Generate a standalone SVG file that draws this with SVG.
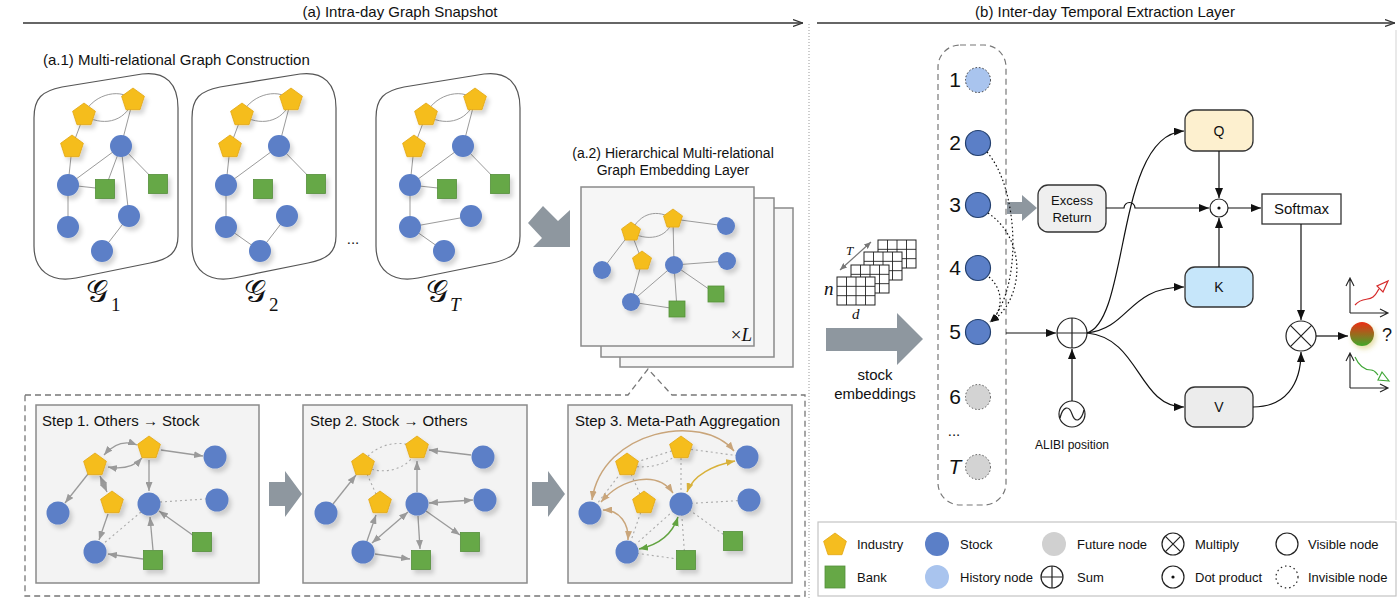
<svg xmlns="http://www.w3.org/2000/svg" xmlns:xlink="http://www.w3.org/1999/xlink" width="1400" height="599" viewBox="0 0 1400 599">
<style>
text{font-family:"Liberation Sans",Arial,sans-serif;fill:#111}
.t15{font-size:15px}
.t14{font-size:14px}
.t13{font-size:13px}
.t12{font-size:12px}
.math{font-family:"Liberation Serif","DejaVu Serif",serif}
.ind{fill:#f5bd1f;stroke:#e2a611;stroke-width:.8}
.stk{fill:#5b7fc7}
.bank{fill:#66a846;stroke:#54903a;stroke-width:.8}
.e{stroke:#9b9b9b;stroke-width:1;fill:none}
.ea{stroke:#9a9a9a;stroke-width:1.3;fill:none}
.dot{stroke:#aaa;stroke-width:1.1;fill:none;stroke-dasharray:2 3}
.stepbox{fill:#f3f3f3;stroke:#8a8a8a;stroke-width:1.5}
.layer{fill:#f6f6f6;stroke:#8a8a8a;stroke-width:1.5}
.cont{fill:#fff;stroke:#555;stroke-width:1.2}
.bk{stroke:#222;stroke-width:1.2;fill:none}
.box{stroke:#333;stroke-width:1.3}
.bigarrow{fill:#8e979f}
</style>
<defs>
<filter id="sh" x="-50%" y="-50%" width="200%" height="200%"><feDropShadow dx="3" dy="4" stdDeviation="2" flood-color="#000" flood-opacity="0.16"/></filter>
<filter id="glow" x="-60%" y="-60%" width="220%" height="220%"><feDropShadow dx="2" dy="3" stdDeviation="2.5" flood-color="#c8b640" flood-opacity="0.45"/></filter>
<path id="pent" d="M0,-12 L11.4,-3.7 L7,9.7 L-7,9.7 L-11.4,-3.7Z"/>
<path id="pentS" d="M0,-10 L9.5,-3.1 L5.9,8.1 L-5.9,8.1 L-9.5,-3.1Z"/>
<linearGradient id="ball" x1="0" y1="0" x2="0" y2="1"><stop offset="0" stop-color="#ec2d14"/><stop offset="0.5" stop-color="#9a6a1e"/><stop offset="1" stop-color="#40a82a"/></linearGradient>
<marker id="hd" viewBox="0 0 10 8" refX="10" refY="4" markerWidth="10" markerHeight="8" markerUnits="userSpaceOnUse" orient="auto"><path d="M0,0.5L9.5,4L0,7.5" fill="none" stroke="#333" stroke-width="1.2"/></marker>
<marker id="ah" viewBox="0 0 10 8" refX="10" refY="4" markerWidth="10" markerHeight="8" markerUnits="userSpaceOnUse" orient="auto"><path d="M0,0L10,4L0,8z" fill="#111"/></marker>
<marker id="ahs" viewBox="0 0 8 6" refX="8" refY="3" markerWidth="8" markerHeight="6" markerUnits="userSpaceOnUse" orient="auto"><path d="M0,0L8,3L0,6z" fill="#111"/></marker>
<marker id="mg" viewBox="0 0 9 7" refX="9" refY="3.5" markerWidth="9" markerHeight="7" markerUnits="userSpaceOnUse" orient="auto-start-reverse"><path d="M0,0L9,3.5L0,7z" fill="#9a9a9a"/></marker>
<marker id="mt" viewBox="0 0 9 7" refX="9" refY="3.5" markerWidth="9" markerHeight="7" markerUnits="userSpaceOnUse" orient="auto-start-reverse"><path d="M0,0L9,3.5L0,7z" fill="#c9a57a"/></marker>
<marker id="my" viewBox="0 0 9 7" refX="9" refY="3.5" markerWidth="9" markerHeight="7" markerUnits="userSpaceOnUse" orient="auto-start-reverse"><path d="M0,0L9,3.5L0,7z" fill="#d8b13a"/></marker>
<marker id="mgr" viewBox="0 0 9 7" refX="9" refY="3.5" markerWidth="9" markerHeight="7" markerUnits="userSpaceOnUse" orient="auto-start-reverse"><path d="M0,0L9,3.5L0,7z" fill="#62a340"/></marker>
<marker id="mT" viewBox="0 0 7 6" refX="7" refY="3" markerWidth="7" markerHeight="6" markerUnits="userSpaceOnUse" orient="auto-start-reverse"><path d="M0,0L7,3L0,6z" fill="#777"/></marker>
<g id="grid"><rect x="0" y="0" width="38" height="28" fill="#fff" stroke="#222" stroke-width="1"/><path d="M9.5,0V28M19,0V28M28.5,0V28M0,9.33H38M0,18.67H38" stroke="#222" stroke-width="0.9" fill="none"/></g>
<path id="cont" d="M34,118 C34,98 42,91 62,87 L142,74 C166,71 178,84 178,108 L178,236 C178,252 170,259 150,263 L76,278 C50,283 34,270 34,246 Z"/>
</defs>

<rect width="1400" height="599" fill="#fff"/>

<!-- headers -->
<g id="headers">
<text class="t15" x="400" y="17" text-anchor="middle">(a) Intra-day Graph Snapshot</text>
<line x1="23" y1="23" x2="803" y2="23" stroke="#333" stroke-width="1.3" marker-end="url(#hd)"/>
<text class="t15" x="1105" y="17" text-anchor="middle">(b) Inter-day Temporal Extraction Layer</text>
<line x1="817" y1="23" x2="1395" y2="23" stroke="#333" stroke-width="1.3" marker-end="url(#hd)"/>
<line x1="809" y1="24" x2="809" y2="599" stroke="#999" stroke-width="1" stroke-dasharray="1 2"/>
<line x1="1396" y1="30" x2="1396" y2="520" stroke="#e2e2e2" stroke-width="1.5"/>
</g>

<text class="t15" x="43" y="65">(a.1) Multi-relational Graph Construction</text>

<!-- G1 -->
<g id="graph-G1">
<use href="#cont" class="cont"/>
<g class="e">
<path d="M84,115 C90,97 118,86 133,100"/><path d="M84,115 C100,126 125,124 133,100"/>
<path d="M84,115L72,147M133,100L121,146M72,147L68,185M121,146L68,185M121,146L105,189M121,146L158,184M121,146L129,216M68,185L105,189M68,185L68,227M129,216L102,251"/>
</g>
<g filter="url(#sh)">
<use href="#pent" x="84" y="115" class="ind"/><use href="#pent" x="133" y="100" class="ind"/><use href="#pent" x="72" y="147" class="ind"/>
<circle cx="121" cy="146" r="11" class="stk"/><circle cx="68" cy="185" r="11" class="stk"/><circle cx="129" cy="216" r="11" class="stk"/><circle cx="68" cy="227" r="11" class="stk"/><circle cx="102" cy="251" r="11" class="stk"/>
<rect x="95.5" y="179.5" width="19" height="19" class="bank"/><rect x="148.5" y="174.5" width="19" height="19" class="bank"/>
</g>
</g>

<!-- G2 -->
<g id="graph-G2" transform="translate(158,0)">
<use href="#cont" class="cont"/>
<g class="e">
<path d="M84,115 C90,97 118,86 133,100"/><path d="M84,115 C100,126 125,124 133,100"/>
<path d="M84,115L72,147M133,100L121,146M72,147L68,185M121,146L68,185M121,146L158,184M68,185L68,227M68,227L102,251M102,251L129,216"/>
</g>
<g filter="url(#sh)">
<use href="#pent" x="84" y="115" class="ind"/><use href="#pent" x="133" y="100" class="ind"/><use href="#pent" x="72" y="147" class="ind"/>
<circle cx="121" cy="146" r="11" class="stk"/><circle cx="68" cy="185" r="11" class="stk"/><circle cx="129" cy="216" r="11" class="stk"/><circle cx="68" cy="227" r="11" class="stk"/><circle cx="102" cy="251" r="11" class="stk"/>
<rect x="95.5" y="179.5" width="19" height="19" class="bank"/><rect x="148.5" y="174.5" width="19" height="19" class="bank"/>
</g>
</g>

<text class="t15" x="353" y="244" text-anchor="middle">...</text>

<!-- GT -->
<g id="graph-GT" transform="translate(342,0)">
<use href="#cont" class="cont"/>
<g class="e">
<path d="M84,115 C90,97 118,86 133,100"/><path d="M84,115 C100,126 125,124 133,100"/>
<path d="M84,115L72,147M133,100L121,146M72,147L68,185M121,146L68,185M121,146L158,184M68,185L105,189M68,185L68,227M68,227L129,216M68,227L102,251"/>
</g>
<g filter="url(#sh)">
<use href="#pent" x="84" y="115" class="ind"/><use href="#pent" x="133" y="100" class="ind"/><use href="#pent" x="72" y="147" class="ind"/>
<circle cx="121" cy="146" r="11" class="stk"/><circle cx="68" cy="185" r="11" class="stk"/><circle cx="129" cy="216" r="11" class="stk"/><circle cx="68" cy="227" r="11" class="stk"/><circle cx="102" cy="251" r="11" class="stk"/>
<rect x="95.5" y="179.5" width="19" height="19" class="bank"/><rect x="148.5" y="174.5" width="19" height="19" class="bank"/>
</g>
</g>

<g id="g-labels">
<text x="86" y="302" style="font-size:31px" class="math">𝒢</text><text x="111" y="311" style="font-size:19px" class="math">1</text>
<text x="244" y="302" style="font-size:31px" class="math">𝒢</text><text x="269" y="311" style="font-size:19px" class="math">2</text>
<text x="426" y="302" style="font-size:31px" class="math">𝒢</text><text x="450" y="311" style="font-size:19px;font-style:italic" class="math">T</text>
</g>

<!-- arrow G_T to stack -->
<polygon class="bigarrow" points="543,206 558,221 570,210 570,247 533,247 542,238 528,223"/>

<!-- a.2 -->
<g id="a2">
<text class="t14" x="673" y="158" text-anchor="middle">(a.2) Hierarchical Multi-relational</text>
<text class="t14" x="673" y="175" text-anchor="middle">Graph Embedding Layer</text>
<rect x="620" y="208" width="173" height="159" class="layer"/>
<rect x="601" y="198" width="173" height="159" class="layer"/>
<rect x="581" y="187" width="173" height="159" class="layer"/>
<g class="e">
<path d="M631,232 C640,212 658,209 673,219"/><path d="M631,232 C645,241 668,240 673,219"/>
<path d="M673,219L726,226M631,232L602,270M631,232L642,261M673,219L674,265M642,261L631,302M674,265L727,261M674,265L631,302M674,265L677,309M674,265L716,294M631,302L677,309"/>
</g>
<g filter="url(#sh)">
<use href="#pentS" x="631" y="232" class="ind"/><use href="#pentS" x="673" y="219" class="ind"/><use href="#pentS" x="642" y="261" class="ind"/>
<circle cx="726" cy="226" r="9" class="stk"/><circle cx="602" cy="270" r="9" class="stk"/><circle cx="674" cy="265" r="9" class="stk"/><circle cx="727" cy="261" r="9" class="stk"/><circle cx="631" cy="302" r="9" class="stk"/>
<rect x="669" y="301" width="16" height="16" class="bank"/><rect x="708" y="286" width="16" height="16" class="bank"/>
</g>
<text x="752" y="341" text-anchor="end" class="math" style="font-size:19px">×<tspan font-style="italic">L</tspan></text>
</g>

<!-- dashed outer box with callout -->
<path d="M25,395 H628 L648,369 L672,395 H805 V596 H25 Z" fill="none" stroke="#777" stroke-width="1.3" stroke-dasharray="6 4"/>

<!-- step arrows -->
<polygon class="bigarrow" points="269,482 285,482 285,471 302,494 285,517 285,506 269,506"/>
<polygon class="bigarrow" points="532,482 548,482 548,471 565,494 548,517 548,506 532,506"/>

<!-- Step 1 -->
<g id="step1">
<rect x="36" y="405" width="223" height="178" class="stepbox"/>
<text class="t15" x="42" y="426">Step 1. Others → Stock</text>
<g class="dot"><path d="M160,502L206,499M141,512L103,544"/></g>
<g class="ea">
<path d="M104,455 Q119,438 137,445" marker-start="url(#mg)" marker-end="url(#mg)"/>
<path d="M108,467 Q130,471 142,458" marker-start="url(#mg)" marker-end="url(#mg)"/>
<path d="M161,450L203,456" marker-end="url(#mg)"/>
<path d="M88,474L65,503" marker-end="url(#mg)"/>
<path d="M100,476L107,492" marker-start="url(#mg)" marker-end="url(#mg)"/>
<path d="M149,460L149,491" marker-end="url(#mg)"/>
<path d="M108,514L99,540" marker-end="url(#mg)"/>
<path d="M153,550L150,517" marker-end="url(#mg)"/>
<path d="M194,536L159,511" marker-end="url(#mg)"/>
<path d="M143,559L108,554" marker-end="url(#mg)"/>
</g>
<g filter="url(#sh)">
<use href="#pent" x="95" y="465" class="ind"/><use href="#pent" x="149" y="448" class="ind"/><use href="#pent" x="112" y="503" class="ind"/>
<circle cx="215" cy="457" r="11.5" class="stk"/><circle cx="58" cy="513" r="11.5" class="stk"/><circle cx="149" cy="504" r="11.5" class="stk"/><circle cx="217" cy="500" r="11.5" class="stk"/><circle cx="95" cy="552" r="11.5" class="stk"/>
<rect x="143.5" y="550.5" width="19" height="19" class="bank"/><rect x="192.5" y="532.5" width="19" height="19" class="bank"/>
</g>
</g>

<!-- Step 2 -->
<g id="step2" transform="translate(268,0)">
<rect x="35" y="405" width="224" height="178" class="stepbox"/>
<text class="t15" x="42" y="426">Step 2. Stock → Others</text>
<g class="dot"><path d="M95,465 C102,445 132,438 149,448M95,465 C110,476 142,472 149,448M95,465L112,503"/></g>
<g class="ea">
<path d="M203,455L161,450" marker-end="url(#mg)"/>
<path d="M65,504L88,475" marker-end="url(#mg)"/>
<path d="M149,492L149,461" marker-end="url(#mg)"/>
<path d="M161,503L205,500" marker-start="url(#mg)" marker-end="url(#mg)"/>
<path d="M150,516L152,549" marker-end="url(#mg)"/>
<path d="M158,511L192,535" marker-end="url(#mg)"/>
<path d="M140,512L104,543" marker-start="url(#mg)" marker-end="url(#mg)"/>
<path d="M99,541L108,515" marker-end="url(#mg)"/>
<path d="M107,554L142,559" marker-end="url(#mg)"/>
</g>
<g filter="url(#sh)">
<use href="#pent" x="95" y="465" class="ind"/><use href="#pent" x="149" y="448" class="ind"/><use href="#pent" x="112" y="503" class="ind"/>
<circle cx="215" cy="457" r="11.5" class="stk"/><circle cx="58" cy="513" r="11.5" class="stk"/><circle cx="149" cy="504" r="11.5" class="stk"/><circle cx="217" cy="500" r="11.5" class="stk"/><circle cx="95" cy="552" r="11.5" class="stk"/>
<rect x="143.5" y="550.5" width="19" height="19" class="bank"/><rect x="192.5" y="532.5" width="19" height="19" class="bank"/>
</g>
</g>

<!-- Step 3 -->
<g id="step3" transform="translate(532,0)">
<rect x="36" y="405" width="224" height="178" class="stepbox"/>
<text class="t15" x="43" y="426">Step 3. Meta-Path Aggregation</text>
<g class="dot"><path d="M95,465L149,448M95,465 C115,470 140,465 149,448M149,448L215,457M95,465L58,513M95,465L112,503M149,448L149,504M112,503L95,552M149,504L217,500M149,504L153,560M149,504L202,542M95,552L153,560M149,504L95,552"/></g>
<path d="M60,500 C70,430 170,412 202,451" fill="none" stroke="#c9a57a" stroke-width="1.5" marker-start="url(#mt)" marker-end="url(#mt)"/>
<path d="M69,502 C90,478 125,470 141,493" fill="none" stroke="#c9a57a" stroke-width="1.5" marker-start="url(#mt)" marker-end="url(#mt)"/>
<path d="M71,510 C88,510 97,524 96,540" fill="none" stroke="#c9a57a" stroke-width="1.5" marker-start="url(#mt)" marker-end="url(#mt)"/>
<path d="M203,461 C182,465 161,475 155,492" fill="none" stroke="#d8b13a" stroke-width="1.5" marker-start="url(#my)" marker-end="url(#my)"/>
<path d="M107,549 C126,545 140,535 146,517" fill="none" stroke="#62a340" stroke-width="1.5" marker-start="url(#mgr)" marker-end="url(#mgr)"/>
<g filter="url(#sh)">
<use href="#pent" x="95" y="465" class="ind"/><use href="#pent" x="149" y="448" class="ind"/><use href="#pent" x="112" y="503" class="ind"/>
<circle cx="215" cy="457" r="11.5" class="stk"/><circle cx="58" cy="513" r="11.5" class="stk"/><circle cx="149" cy="504" r="11.5" class="stk"/><circle cx="217" cy="500" r="11.5" class="stk"/><circle cx="95" cy="552" r="11.5" class="stk"/>
<rect x="144.5" y="550.5" width="19" height="19" class="bank"/><rect x="191.5" y="531.5" width="19" height="19" class="bank"/>
</g>
</g>

<!-- Right panel -->
<g id="embeddings-input">
<use href="#grid" x="878" y="240"/>
<use href="#grid" x="864" y="252"/>
<use href="#grid" x="851" y="265"/>
<use href="#grid" x="837" y="277"/>
<line x1="840" y1="270" x2="871" y2="242" stroke="#777" stroke-width="1.2" marker-start="url(#mT)" marker-end="url(#mT)"/>
<text x="846" y="255" class="math" style="font-size:13px;font-style:italic">T</text>
<text x="824" y="295" class="math" style="font-size:19px;font-style:italic">n</text>
<text x="852" y="319" class="math" style="font-size:15px;font-style:italic">d</text>
<polygon class="bigarrow" points="826,328 897,328 897,313 923,339 897,365 897,351 826,351"/>
<text class="t15" x="875" y="380" text-anchor="middle">stock</text>
<text class="t15" x="875" y="399" text-anchor="middle">embeddings</text>
</g>

<g id="time-column">
<rect x="938" y="45" width="68" height="460" rx="22" fill="none" stroke="#777" stroke-width="1.2" stroke-dasharray="6 4"/>
<g class="math" style="font-size:21px" text-anchor="middle">
<text x="955" y="87">1</text><text x="955" y="150">2</text><text x="955" y="212">3</text><text x="955" y="275">4</text><text x="955" y="339">5</text><text x="955" y="404">6</text>
<text x="955" y="474" font-style="italic">T</text>
</g>
<text x="954" y="436" class="t15" text-anchor="middle">...</text>
<circle cx="978" cy="80" r="12.5" fill="#a9c4ee" stroke="#333" stroke-width="1" stroke-dasharray="1.5 2"/>
<g class="stk" stroke="#223f6e" stroke-width="1.2">
<circle cx="978" cy="143" r="12.5"/><circle cx="978" cy="205" r="12.5"/><circle cx="978" cy="268" r="12.5"/><circle cx="978" cy="332" r="12.5"/>
</g>
<circle cx="978" cy="397" r="12.5" fill="#d3d3d3" stroke="#555" stroke-width="1" stroke-dasharray="1.5 2"/>
<circle cx="978" cy="467" r="12.5" fill="#d3d3d3" stroke="#555" stroke-width="1" stroke-dasharray="1.5 2"/>
</g>

<polygon class="bigarrow" points="1007,202 1022,202 1022,195 1037,208 1022,221 1022,214 1007,214"/>

<g id="excess-return">
<rect x="1038" y="185" width="68" height="47" rx="10" fill="#efefef" class="box"/>
<text class="t13" x="1072" y="205" text-anchor="middle">Excess</text>
<text class="t13" x="1072" y="222" text-anchor="middle">Return</text>
</g>

<g id="q"><rect x="1185" y="110" width="68" height="41" rx="10" fill="#fdf0cf" class="box"/><text class="t14" x="1219" y="136" text-anchor="middle">Q</text></g>
<g id="k"><rect x="1185" y="267" width="68" height="40" rx="10" fill="#c6e6fa" class="box"/><text class="t14" x="1219" y="292" text-anchor="middle">K</text></g>
<g id="v"><rect x="1185" y="387" width="68" height="40" rx="10" fill="#ececec" class="box"/><text class="t14" x="1219" y="412" text-anchor="middle">V</text></g>
<g id="softmax"><rect x="1262" y="194" width="79" height="30" fill="#fff" class="box"/><text class="t15" x="1301.5" y="214" text-anchor="middle">Softmax</text></g>

<g id="dot-product"><circle cx="1219" cy="208" r="9" fill="#fff" class="bk"/><circle cx="1219" cy="208" r="1.6" fill="#111"/></g>
<g id="sum"><circle cx="1072" cy="333" r="15" fill="#fff" class="bk"/><path d="M1057,333H1087M1072,318V348" class="bk"/></g>
<g id="alibi"><circle cx="1072" cy="414" r="13" fill="#fff" class="bk"/><path d="M1060,418 C1063,406 1069,405 1072,414 C1075,423 1081,422 1084,410" class="bk"/><text class="t12" x="1072" y="449" text-anchor="middle">ALIBI position</text></g>
<g id="multiply"><circle cx="1301" cy="336" r="15" fill="#fff" class="bk"/><path d="M1290.4,325.4L1311.6,346.6M1311.6,325.4L1290.4,346.6" class="bk"/></g>

<g id="output">
<circle cx="1362" cy="334" r="12" fill="url(#ball)" filter="url(#glow)"/>
<text x="1382" y="341" style="font-size:18px">?</text>
<path d="M1350,313V279M1346,286L1350,278L1354,286M1350,313H1387M1380,309L1388,313L1380,317" fill="none" stroke="#222" stroke-width="1.1"/>
<path d="M1355,305 C1362,297 1368,301 1373,297 C1377,294 1377,291 1379,289" fill="none" stroke="#d62a2a" stroke-width="1.2"/>
<polygon points="1388,281 1383,292 1377,286" fill="#fff" stroke="#d62a2a" stroke-width="1.2"/>
<path d="M1350,388V354M1346,361L1350,353L1354,361M1350,388H1387M1380,384L1388,388L1380,392" fill="none" stroke="#222" stroke-width="1.1"/>
<path d="M1355,357 C1360,368 1367,370 1371,370 C1375,370 1376,373 1378,375" fill="none" stroke="#3fa636" stroke-width="1.2"/>
<polygon points="1389,381 1378,380 1382,372" fill="#fff" stroke="#3fa636" stroke-width="1.2"/>
</g>

<g id="connectors" fill="none" stroke="#111" stroke-width="1.2">
<path d="M987,152 C1020,190 1022,290 990,322" stroke-dasharray="1.5 2.5" marker-end="url(#ahs)"/>
<path d="M988,213 C1028,240 1024,300 991,322" stroke-dasharray="1.5 2.5" marker-end="url(#ahs)"/>
<path d="M989,277 C1004,290 1003,310 991,322" stroke-dasharray="1.5 2.5" marker-end="url(#ahs)"/>
<path d="M1006,333H1056" marker-end="url(#ah)"/>
<path d="M1072,401V349" marker-end="url(#ah)"/>
<path d="M1087,333 C1130,320 1115,135 1184,131" marker-end="url(#ah)"/>
<path d="M1087,333 C1130,328 1128,287 1184,287" marker-end="url(#ah)"/>
<path d="M1087,333 C1140,338 1138,407 1184,407" marker-end="url(#ah)"/>
<path d="M1106,208 H1124 A5.5,5.5 0 0 1 1135,208 H1209" marker-end="url(#ah)"/>
<path d="M1219,151V198" marker-end="url(#ah)"/>
<path d="M1219,267V218" marker-end="url(#ah)"/>
<path d="M1228,208H1261" marker-end="url(#ah)"/>
<path d="M1301,224V320" marker-end="url(#ah)"/>
<path d="M1253,407 C1285,407 1301,385 1301,352" marker-end="url(#ah)"/>
<path d="M1316,336H1348" marker-end="url(#ah)"/>
</g>

<!-- legend -->
<g id="legend">
<rect x="818" y="522" width="578" height="74" fill="#fff" stroke="#c4c4c4" stroke-width="1.2"/>
<use href="#pent" x="835" y="545" class="ind"/>
<rect x="825" y="566" width="20" height="22" class="bank"/>
<circle cx="937" cy="544" r="12" class="stk"/>
<circle cx="937" cy="577" r="12" fill="#a9c4ee"/>
<circle cx="1054" cy="544" r="12" fill="#d0d0d0"/>
<circle cx="1052" cy="577" r="11" fill="none" class="bk"/><path d="M1041,577H1063M1052,566V588" class="bk"/>
<circle cx="1173" cy="544" r="11" fill="none" class="bk"/><path d="M1165.2,536.2L1180.8,551.8M1180.8,536.2L1165.2,551.8" class="bk"/>
<circle cx="1173" cy="577" r="11" fill="none" class="bk"/><circle cx="1173" cy="577" r="1.6" fill="#111"/>
<circle cx="1287" cy="544" r="11" fill="none" class="bk"/>
<circle cx="1287" cy="577" r="11" fill="none" stroke="#222" stroke-width="1.2" stroke-dasharray="1.5 3"/>
<g class="t13">
<text x="857" y="549">Industry</text><text x="857" y="582">Bank</text>
<text x="960" y="549">Stock</text><text x="960" y="582">History node</text>
<text x="1077" y="549">Future node</text><text x="1077" y="582">Sum</text>
<text x="1195" y="549">Multiply</text><text x="1195" y="582">Dot product</text>
<text x="1308" y="549">Visible node</text><text x="1308" y="582">Invisible node</text>
</g>
</g>
</svg>
